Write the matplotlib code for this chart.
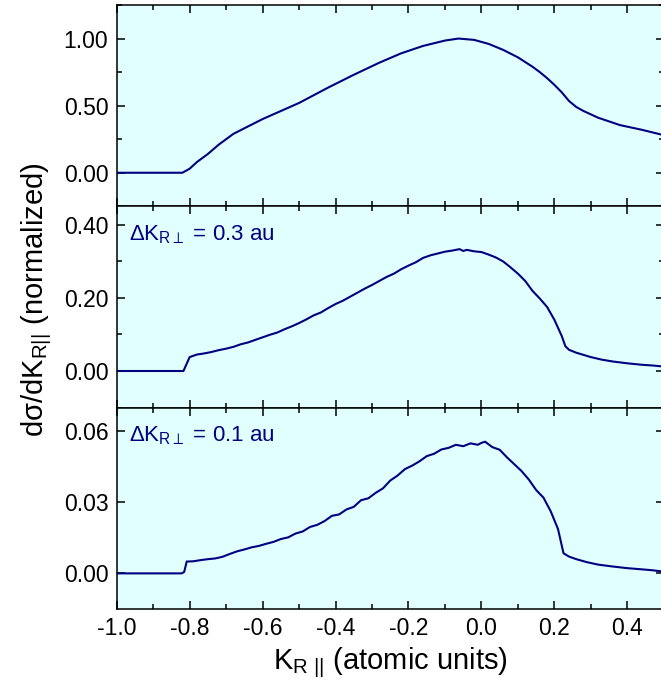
import matplotlib
matplotlib.use('Agg')
import matplotlib.pyplot as plt
from matplotlib.ticker import MultipleLocator, FormatStrFormatter

plt.rcParams['font.family'] = ['Liberation Sans', 'DejaVu Sans']
plt.rcParams['mathtext.fontset'] = 'custom'
plt.rcParams['mathtext.rm'] = 'Liberation Sans'
plt.rcParams['mathtext.it'] = 'Liberation Sans'
plt.rcParams['mathtext.bf'] = 'Liberation Sans'

# top panel: full distribution (smooth)
x_top = [-1.0, -0.82, -0.80, -0.78, -0.75, -0.72, -0.68, -0.60, -0.50, -0.42, -0.35,
         -0.28, -0.22, -0.16, -0.10, -0.063, -0.02, 0.02, 0.06, 0.10, 0.12, 0.14, 0.16,
         0.18, 0.20, 0.22, 0.24, 0.26, 0.28, 0.32, 0.38, 0.44, 0.50]
y_top = [0.0, 0.0, 0.03, 0.08, 0.14, 0.21, 0.29, 0.40, 0.52, 0.635, 0.73,
         0.82, 0.89, 0.945, 0.985, 1.0, 0.99, 0.96, 0.915, 0.86, 0.825, 0.79, 0.75,
         0.705, 0.655, 0.60, 0.535, 0.49, 0.46, 0.41, 0.355, 0.32, 0.28]

# middle panel: dK_perp = 0.3 au
x_mid = [-1.0, -0.817, -0.80, -0.78, -0.76, -0.74, -0.72, -0.70, -0.68, -0.66, -0.64,
         -0.62, -0.60, -0.58, -0.56, -0.54, -0.52, -0.50, -0.48, -0.46, -0.44, -0.42,
         -0.40, -0.38, -0.36, -0.34, -0.32, -0.30, -0.28, -0.26, -0.24, -0.22, -0.20,
         -0.18, -0.16, -0.14, -0.12, -0.10, -0.08, -0.06, -0.05, -0.04, -0.02, 0.0,
         0.02, 0.04, 0.06, 0.08, 0.10, 0.12, 0.14, 0.16, 0.18, 0.20, 0.22, 0.23,
         0.24, 0.26, 0.28, 0.30, 0.33, 0.36, 0.40, 0.44, 0.47, 0.50]
y_mid = [0.0, 0.0, 0.038, 0.045, 0.048, 0.052, 0.057, 0.061, 0.066, 0.073, 0.078,
         0.085, 0.092, 0.099, 0.105, 0.114, 0.122, 0.131, 0.141, 0.152, 0.160, 0.172,
         0.183, 0.192, 0.203, 0.214, 0.225, 0.235, 0.246, 0.257, 0.266, 0.278, 0.288,
         0.297, 0.309, 0.316, 0.321, 0.326, 0.329, 0.333, 0.328, 0.331, 0.327, 0.325,
         0.318, 0.31, 0.299, 0.283, 0.266, 0.246, 0.219, 0.198, 0.175, 0.140, 0.096, 0.068,
         0.058, 0.050, 0.044, 0.038, 0.031, 0.026, 0.021, 0.017, 0.015, 0.012]

# bottom panel: dK_perp = 0.1 au
x_bot = [-1.0, -0.822, -0.815, -0.808, -0.79, -0.77, -0.75, -0.73, -0.71, -0.69, -0.67,
         -0.65, -0.63, -0.61, -0.59, -0.57, -0.55, -0.53, -0.51, -0.49, -0.47, -0.45,
         -0.43, -0.41, -0.39, -0.37, -0.35, -0.33, -0.31, -0.29, -0.27, -0.25, -0.23,
         -0.21, -0.19, -0.17, -0.15, -0.13, -0.11, -0.09, -0.07, -0.05, -0.03, -0.01,
         0.0, 0.01, 0.03, 0.05, 0.07, 0.09, 0.11, 0.13, 0.15, 0.17, 0.19, 0.21,
         0.225, 0.24, 0.26, 0.29, 0.32, 0.36, 0.40, 0.44, 0.47, 0.50]
y_bot = [0.0, 0.0, 0.0006, 0.0050, 0.0051, 0.0056, 0.0060, 0.0063, 0.0070, 0.0082, 0.0093,
         0.0101, 0.0110, 0.0116, 0.0125, 0.0133, 0.0145, 0.0152, 0.0168, 0.0177, 0.0196, 0.0205,
         0.0221, 0.0243, 0.0249, 0.0270, 0.0281, 0.0309, 0.0317, 0.0340, 0.0359, 0.0392, 0.0413,
         0.0440, 0.0455, 0.0473, 0.0495, 0.0505, 0.0523, 0.0530, 0.0543, 0.0537, 0.0549, 0.0543,
         0.0551, 0.0556, 0.0533, 0.0522, 0.0490, 0.0461, 0.0432, 0.0396, 0.0352, 0.0320, 0.0262, 0.0187,
         0.0085, 0.0071, 0.0060, 0.0047, 0.0037, 0.0029, 0.0022, 0.0017, 0.0013, 0.0007]

ylims = [(-0.25, 1.25), (-0.1, 0.45), (-0.015, 0.07)]
yticks = [[0.0, 0.5, 1.0], [0.0, 0.2, 0.4], [0.0, 0.03, 0.06]]
yminor = [0.25, 0.1, None]
notes = [None, r'$\Delta$K$_{\mathrm{R}\perp}$ = 0.3 au', r'$\Delta$K$_{\mathrm{R}\perp}$ = 0.1 au']

line_col = '#000080'
bg = '#E2FFFF'

fig = plt.figure(figsize=(6.61, 6.98), dpi=100)
W, H = 661, 698
left_px, right_px = 116.7, 663.8
tops = [5, 206.3, 407.6]
ph = 201.3

axes = []
for i in range(3):
    ax = fig.add_axes([left_px / W, 1 - (tops[i] + ph) / H, (right_px - left_px) / W, ph / H])
    axes.append(ax)

data = [(x_top, y_top), (x_mid, y_mid), (x_bot, y_bot)]
for i, ax in enumerate(axes):
    ax.set_facecolor(bg)
    ax.plot(data[i][0], data[i][1], color=line_col, lw=1.5)
    ax.set_xlim(-1.0, 0.5)
    ax.set_ylim(*ylims[i])
    ax.set_xticks([-1.0, -0.8, -0.6, -0.4, -0.2, 0.0, 0.2, 0.4])
    ax.xaxis.set_minor_locator(MultipleLocator(0.1))
    ax.set_yticks(yticks[i])
    if yminor[i]:
        ax.yaxis.set_minor_locator(MultipleLocator(yminor[i]))
    ax.yaxis.set_major_formatter(FormatStrFormatter('%.2f'))
    ax.xaxis.set_major_formatter(FormatStrFormatter('%.1f'))
    ax.tick_params(which='both', direction='in', top=True, right=True,
                   width=1.1, labelsize=16.5)
    ax.tick_params(which='major', length=6, pad=6)
    ax.tick_params(which='minor', length=3.5)
    for s in ax.spines.values():
        s.set_linewidth(1.1)
    if i < 2:
        ax.tick_params(labelbottom=False)
    if notes[i]:
        ax.text(0.022, 0.86, notes[i], transform=ax.transAxes, color=line_col,
                fontsize=16, va='center', ha='left')

axes[2].set_xlabel(r'K$_{\mathrm{R\ ||}}$ (atomic units)', fontsize=21, labelpad=4)
fig.text(37 / W, 1 - 300 / H, r'd$\sigma$/dK$_{\mathrm{R||}}$ (normalized)', rotation=90,
         fontsize=21, ha='center', va='center')

fig.savefig('out.png', dpi=100)
